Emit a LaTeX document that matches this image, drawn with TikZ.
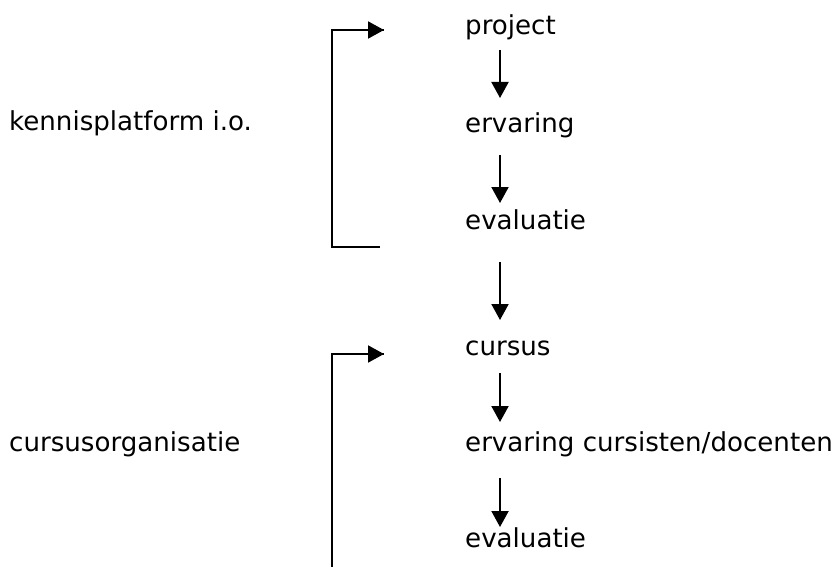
\documentclass[tikz,border=0pt]{standalone}
\usepackage{fontspec}
\setmainfont{DejaVu Sans}
\usetikzlibrary{arrows.meta}
\begin{document}
\begin{tikzpicture}[x=1pt,y=-1pt,
  lbl/.style={anchor=base west,inner sep=0pt,font=\fontsize{26.1}{31}\selectfont},
  arr/.style={line width=2pt,-{Triangle[length=16pt,width=17pt]}},
  brk/.style={line width=2pt}]
\useasboundingbox (0,0) rectangle (840,567);
% left labels
\node[lbl] (kp) at (9,131) {kennisplatform i.o.};
\node[lbl] (co) at (9,451) {cursusorganisatie};
% right column
\node[lbl] (p1) at (465,35) {project};
\node[lbl] (e1) at (465,132) {ervaring};
\node[lbl] (v1) at (465,229) {evaluatie};
\node[lbl] (c2) at (465,355) {cursus};
\node[lbl] (e2) at (465,451) {ervaring cursisten/docenten};
\node[lbl] (v2) at (465,547) {evaluatie};
% arrow endpoints
\coordinate (a1s) at (500,50);  \coordinate (a1e) at (500,98);
\coordinate (a2s) at (500,155); \coordinate (a2e) at (500,203);
\coordinate (a3s) at (500,262); \coordinate (a3e) at (500,320);
\coordinate (a4s) at (500,373); \coordinate (a4e) at (500,422);
\coordinate (a5s) at (500,478); \coordinate (a5e) at (500,527);
\draw[arr] (a1s) -- (a1e);
\draw[arr] (a2s) -- (a2e);
\draw[arr] (a3s) -- (a3e);
\draw[arr] (a4s) -- (a4e);
\draw[arr] (a5s) -- (a5e);
% brackets
\coordinate (b1a) at (380,247);
\coordinate (b1b) at (332,247);
\coordinate (b1c) at (332,30);
\coordinate (b1d) at (384,30);
\draw[brk] (b1a) -- (b1b) -- (b1c) -- (b1d);
\draw[arr] (370,30) -- (b1d);
\coordinate (b2a) at (332,568);
\coordinate (b2b) at (332,354);
\coordinate (b2c) at (384,354);
\draw[brk] (b2a) -- (b2b) -- (b2c);
\draw[arr] (370,354) -- (b2c);
\end{tikzpicture}
\end{document}
